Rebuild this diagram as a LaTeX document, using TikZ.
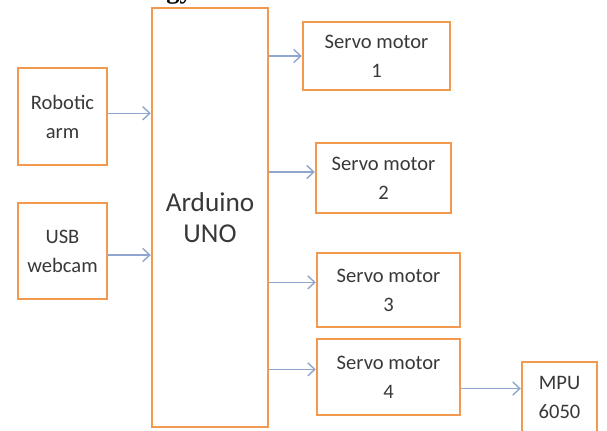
\documentclass[tikz,border=0pt]{standalone}
\usepackage{fontspec}
\setmainfont{Carlito}
\newfontfamily\titlefont{Liberation Serif}
\usetikzlibrary{arrows.meta,positioning}
\definecolor{boxorange}{HTML}{F0994F}
\definecolor{linkblue}{HTML}{8FA6CF}
\definecolor{txtgray}{HTML}{383838}
\begin{document}
\begin{tikzpicture}[x=0.02cm, y=-0.02cm,
  block/.style={draw=boxorange, line width=1.4pt, align=center, inner sep=0pt, text=txtgray, font=\fontsize{11.7}{16.5}\selectfont},
  link/.style={draw=linkblue, line width=0.8pt, -{Straight Barb[length=4pt,width=7.5pt]}}]
\useasboundingbox (0,0) rectangle (607,430);
\node[anchor=south west, inner sep=0pt, font=\titlefont\bfseries\fontsize{15}{18}\selectfont] (head) at (166,4.5) {gy};
\node[block, minimum width=1.78cm, minimum height=1.94cm] (arm) at (62.5,116.5) {Robotic\\arm};
\node[block, minimum width=1.78cm, minimum height=1.92cm] (cam) at (62.5,251) {USB\\webcam};
\node[block, minimum width=2.32cm, minimum height=8.38cm, font=\fontsize{15.5}{17.5}\selectfont] (uno) at (210,217.5) {Arduino\\UNO};
\node[block, minimum width=2.94cm, minimum height=1.36cm] (s1) at (376.5,56) {Servo motor\\1};
\node[block, minimum width=2.70cm, minimum height=1.40cm] (s2) at (383.5,178) {Servo motor\\2};
\node[block, minimum width=2.86cm, minimum height=1.48cm] (s3) at (388.5,290) {Servo motor\\3};
\node[block, minimum width=2.86cm, minimum height=1.52cm] (s4) at (388.5,377) {Servo motor\\4};
\node[block, minimum width=1.50cm, minimum height=1.42cm] (mpu) at (559.5,397.5) {MPU\\6050};
% inputs
\draw[link] (arm.4) -- (arm.4 -| uno.west); \draw[link] (cam.-5) -- (cam.-5 -| uno.west);
% outputs
\draw[link] (uno.east |- s1.west) -- (s1.west); \draw[link] (uno.east |- s2.175) -- (s2.175);
\draw[link] (uno.east |- s3.174) -- (s3.174); \draw[link] (uno.east |- s4.174) -- (s4.174);
\draw[link] (s4.-9) -- (s4.-9 -| mpu.west);
\end{tikzpicture}
\end{document}
